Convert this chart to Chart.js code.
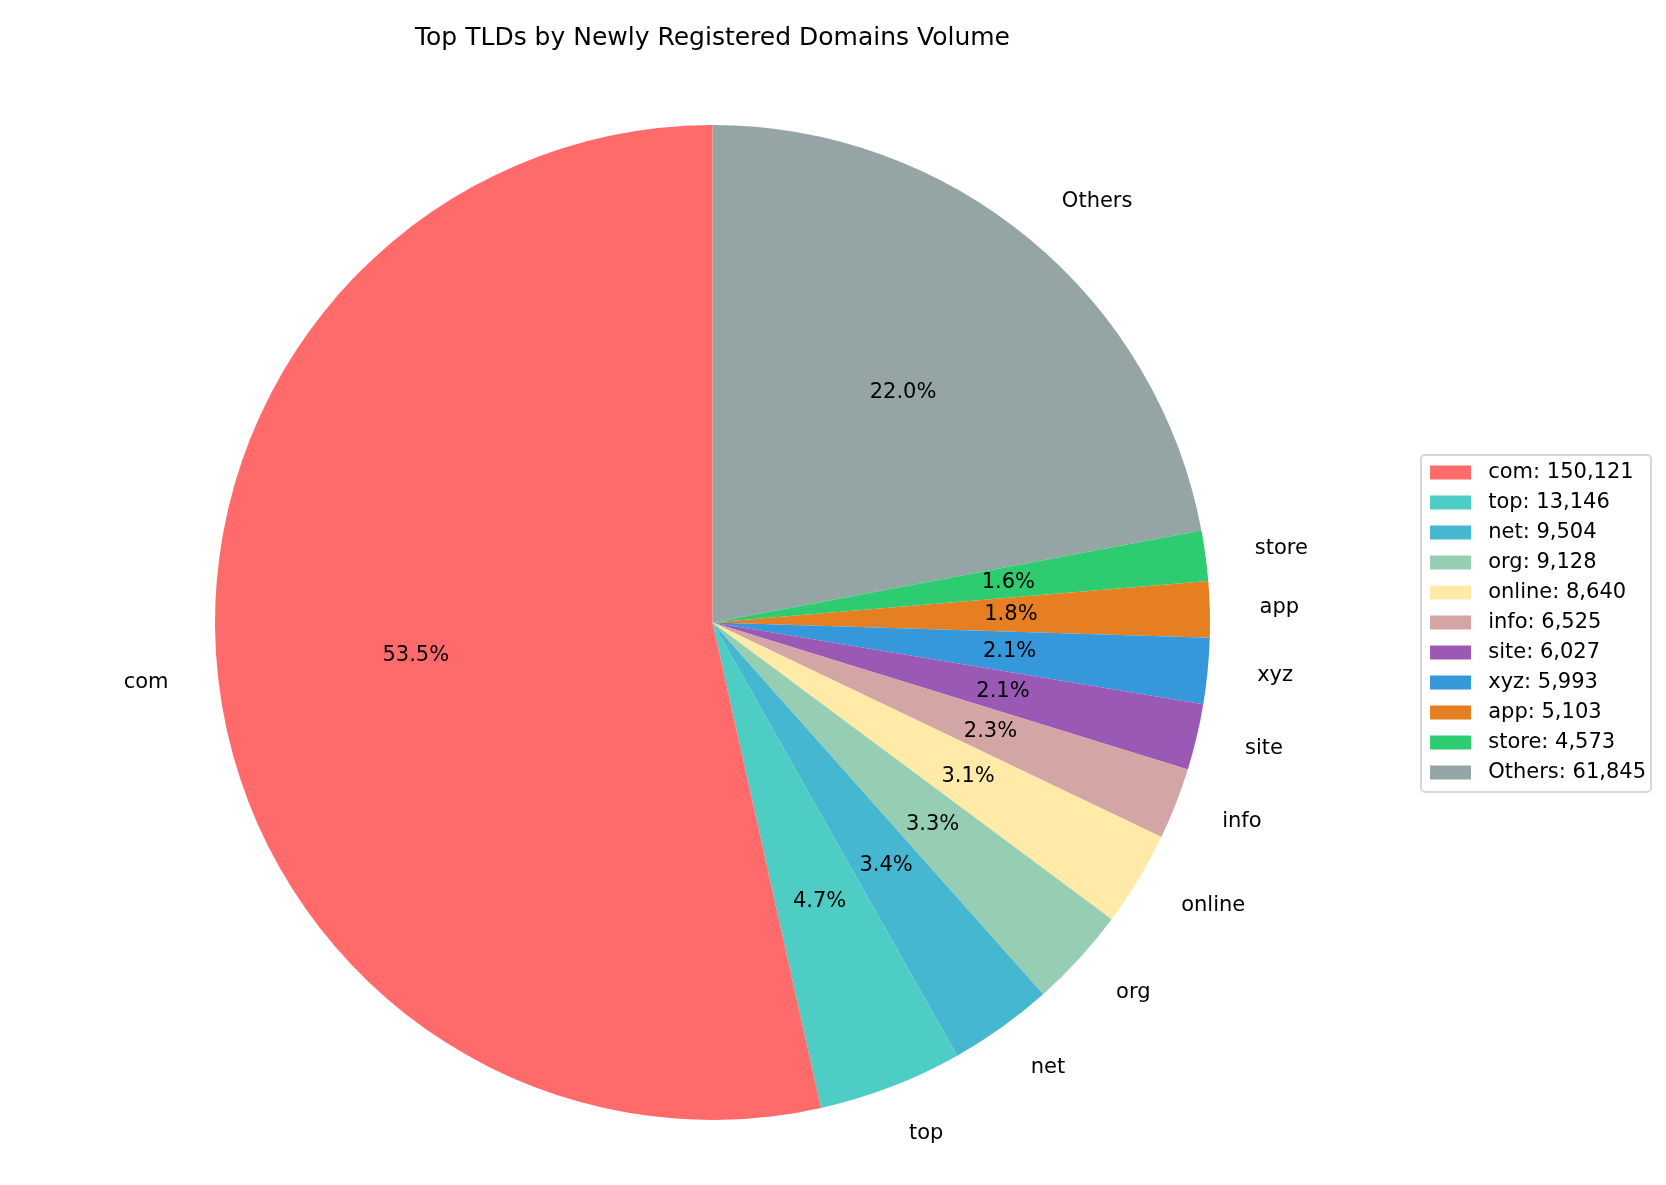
<!DOCTYPE html>
<html>
<head>
<meta charset="utf-8">
<script src="https://cdn.jsdelivr.net/npm/chart.js@4.4.1/dist/chart.umd.min.js"></script>
<style>
  html, body { margin: 0; padding: 0; background: #fff; }
  #wrap { width: 1666px; height: 1185px; }
</style>
</head>
<body>
<div id="wrap"><canvas id="tldChart" width="1666" height="1185"></canvas></div>
<script>
// data, in legend order
const tlds = ['com', 'top', 'net', 'org', 'online', 'info', 'site', 'xyz', 'app', 'store', 'Others'];
const counts = [150121, 13146, 9504, 9128, 8640, 6525, 6027, 5993, 5103, 4573, 61845];
const sliceColors = ['#FF6B6B', '#4ECDC4', '#45B7D1', '#96CEB4', '#FFEAA7', '#D4A5A5',
                     '#9B59B6', '#3498DB', '#E67E22', '#2ECC71', '#95A5A6'];

// matplotlib draws counterclockwise from the top, Chart.js clockwise -> feed it reversed
const revLabels = tlds.slice().reverse();
const revCounts = counts.slice().reverse();
const revColors = sliceColors.slice().reverse();
const total = counts.reduce((a, b) => a + b, 0);

const FONT = 'DejaVu Sans';
Chart.defaults.font.family = FONT;
Chart.defaults.color = '#000';

// percent inside, name outside (like autopct + labels)
const sliceText = {
  id: 'sliceText',
  afterDatasetsDraw(chart) {
    const ctx = chart.ctx;
    const meta = chart.getDatasetMeta(0);
    ctx.save();
    ctx.font = '21px "' + FONT + '"';
    ctx.fillStyle = '#000';
    ctx.textBaseline = 'middle';
    meta.data.forEach((arc, i) => {
      const p = arc.getProps(['x', 'y', 'startAngle', 'endAngle', 'outerRadius'], true);
      const mid = (p.startAngle + p.endAngle) / 2;
      const c = Math.cos(mid), s = Math.sin(mid);
      const pct = (revCounts[i] / total * 100).toFixed(1) + '%';
      ctx.textAlign = 'center';
      ctx.fillText(pct, p.x + 0.6 * p.outerRadius * c, p.y + 0.6 * p.outerRadius * s);
      ctx.textAlign = c >= 0 ? 'left' : 'right';
      ctx.fillText(revLabels[i], p.x + 1.1 * p.outerRadius * c, p.y + 1.1 * p.outerRadius * s);
    });
    ctx.restore();
  }
};

// frame around the legend
const legendFrame = {
  id: 'legendFrame',
  beforeDraw(chart) {
    const lg = chart.legend;
    if (!lg || !lg.legendHitBoxes.length) return;
    const boxes = lg.legendHitBoxes;
    const top = Math.min(...boxes.map(b => b.top)) - 7;
    const bottom = Math.max(...boxes.map(b => b.top + b.height)) + 9;
    const ctx = chart.ctx;
    ctx.save();
    ctx.fillStyle = '#fff';
    ctx.strokeStyle = '#d6d6d6';
    ctx.lineWidth = 2;
    ctx.beginPath();
    ctx.roundRect(lg.left, top, lg.right - lg.left - 5, bottom - top, 4);
    ctx.fill();
    ctx.stroke();
    ctx.restore();
  }
};

new Chart(document.getElementById('tldChart'), {
  type: 'pie',
  data: {
    labels: revLabels,
    datasets: [{
      data: revCounts,
      backgroundColor: revColors,
      borderWidth: 0,
      hoverOffset: 0,
      offset: 0
    }]
  },
  plugins: [legendFrame, sliceText],
  options: {
    responsive: false,
    devicePixelRatio: 1,
    animation: false,
    events: [],
    layout: { padding: { left: 4, right: 10, top: 8, bottom: 65 } },
    plugins: {
      title: {
        display: true,
        text: 'Top TLDs by Newly Registered Domains Volume',
        fullSize: false,
        color: '#000',
        font: { size: 25, weight: 'normal', family: FONT },
        padding: { top: 15, bottom: 72 }
      },
      legend: {
        position: 'right',
        fullSize: false,
        reverse: true,
        labels: {
          boxWidth: 41,
          boxHeight: 14,
          padding: 9,
          color: '#000',
          font: { size: 21, family: FONT },
          generateLabels(chart) {
            const base = Chart.overrides.pie.plugins.legend.labels.generateLabels(chart);
            return base.map(item => Object.assign(item, {
              text: ' ' + revLabels[item.index] + ': ' + revCounts[item.index].toLocaleString('en-US'),
              lineWidth: 0
            }));
          }
        }
      },
      tooltip: { enabled: false }
    }
  }
});
</script>
</body>
</html>
